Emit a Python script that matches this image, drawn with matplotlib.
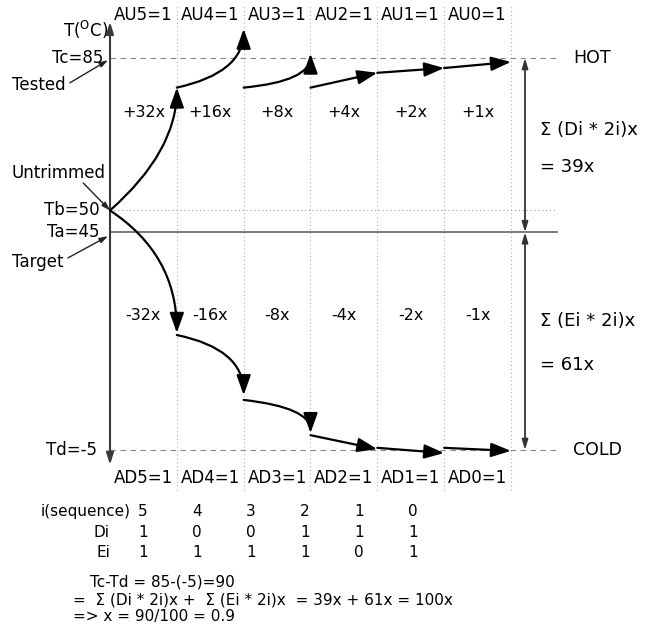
import numpy as np
import matplotlib.pyplot as plt
from matplotlib.patches import FancyArrowPatch
from matplotlib.path import Path

plt.rcParams['font.family'] = 'DejaVu Sans'

# temperature levels in degC
Tc, Tb, Ta, Td = 85, 50, 45, -5

# trim bits, MSB first
bits = [5, 4, 3, 2, 1, 0]
Di = [1, 0, 0, 1, 1, 1]
Ei = [1, 1, 1, 1, 0, 1]
steps = [32, 16, 8, 4, 2, 1]
au_labels = ['AU5=1', 'AU4=1', 'AU3=1', 'AU2=1', 'AU1=1', 'AU0=1']
ad_labels = ['AD5=1', 'AD4=1', 'AD3=1', 'AD2=1', 'AD1=1', 'AD0=1']

# trim paths, one arrow per bit column: start temp -> end temp
up_start = [50, 78.2, 78.2, 78.2, 81.6, 82.7]
up_end = [78.2, 91.7, 86.0, 81.6, 82.7, 84.1]
up_bend = [0.48, 0.25, 0.19, None, None, None]
down_start = [50, 21.4, 6.5, -1.6, -4.5, -4.5]
down_end = [21.9, 7.6, -1.1, -4.8, -5.7, -5.2]
down_bend = [0.36, 0.23, 0.23, None, None, None]

# page layout (pixels)
W, H = 647, 638
x0_px, col_px = 110, 66.83
tc_px, deg_px = 58, 4.3556

fig = plt.figure(figsize=(W / 100, H / 100), dpi=100)
ax = fig.add_axes([0, 0, 1, 1])
ax.set_xlim(-x0_px / col_px, (W - x0_px) / col_px)
ax.set_ylim(Tc - (H - tc_px) / deg_px, Tc + tc_px / deg_px)
ax.axis('off')

ncol = len(bits)
right = 6.69  # end of the level lines

# bit column separators
for c in range(1, ncol + 1):
    ax.plot([c, c], [-14.2, 97.2], color='#b0b0b0', lw=0.8, ls=(0, (1, 2.5)), zorder=1)

# temperature levels
ax.plot([0, right], [Tc, Tc], color='#8a8a8a', lw=0.8, ls=(0, (5, 4)), zorder=1)
ax.plot([0, right], [Td, Td], color='#8a8a8a', lw=0.8, ls=(0, (5, 4)), zorder=1)
ax.plot([0, right], [Tb, Tb], color='#a0a0a0', lw=0.8, ls=(0, (1, 2.5)), zorder=1)
ax.plot([0, right], [Ta, Ta], color='#707070', lw=1.3, zorder=1)

# temperature axis
ax.add_patch(FancyArrowPatch((0, -8.4), (0, 93.3), arrowstyle='<|-|>,head_length=7,head_width=2.2',
                             mutation_scale=1, shrinkA=0, shrinkB=0, lw=1.5, color='#3a3a3a', zorder=2))


def trim_arrow(c, t0, t1, bend):
    if bend is None:
        path = Path([(c, t0), (c + 1, t1)], [Path.MOVETO, Path.LINETO])
    else:
        path = Path([(c, t0), (c + 1, t0 + bend * (t1 - t0)), (c + 1, t1)],
                    [Path.MOVETO, Path.CURVE3, Path.CURVE3])
    ax.add_patch(FancyArrowPatch(path=path, arrowstyle='-|>,head_length=12,head_width=4.3',
                                 mutation_scale=1, lw=1.6, color='black', zorder=4))


for c in range(ncol):
    trim_arrow(c, up_start[c], up_end[c], up_bend[c])
    trim_arrow(c, down_start[c], down_end[c], down_bend[c])

# span arrows on the right
xs = 6.21
for a, b in [(Tc, Ta), (Ta, Td)]:
    ax.add_patch(FancyArrowPatch((xs, a), (xs, b), arrowstyle='<|-|>,head_length=6,head_width=1.8',
                                 mutation_scale=1, shrinkA=0, shrinkB=0, lw=1.3, color='#333333', zorder=3))

fs = 12
# column headers and step sizes
for c in range(ncol):
    ax.text(c + 0.5, 94.9, au_labels[c], ha='center', va='center', fontsize=fs)
    ax.text(c + 0.5, -11.4, ad_labels[c], ha='center', va='center', fontsize=fs)
    ax.text(c + 0.5, 72.4, '+%dx' % steps[c], ha='center', va='center', fontsize=11.5)
    ax.text(c + 0.5, 25.8, '-%dx' % steps[c], ha='center', va='center', fontsize=11.5)

# level labels on the axis
ax.text(-0.03, 91.4, r'T($\mathregular{^{O}}$C)', ha='right', va='center', fontsize=fs)
ax.text(-0.1, Tc, 'Tc=%d' % Tc, ha='right', va='center', fontsize=fs)
ax.text(-0.15, Tb, 'Tb=%d' % Tb, ha='right', va='center', fontsize=fs)
ax.text(-0.15, Ta, 'Ta=%d' % Ta, ha='right', va='center', fontsize=fs)
ax.text(-0.19, Td, 'Td=%d' % Td, ha='right', va='center', fontsize=fs)

ax.text(-1.47, 78.8, 'Tested', ha='left', va='center', fontsize=fs)
ax.text(-1.47, 58.6, 'Untrimmed', ha='left', va='center', fontsize=fs)
ax.text(-1.47, 38.2, 'Target', ha='left', va='center', fontsize=fs)

leaders = [((-0.6, 79.3), (-0.03, 84.5)), ((-0.4, 56.3), (0, Tb)), ((-0.63, 39.1), (-0.03, 44.1))]
for p0, p1 in leaders:
    ax.add_patch(FancyArrowPatch(p0, p1, arrowstyle='-|>,head_length=5,head_width=1.6', mutation_scale=1,
                                 shrinkA=0, shrinkB=0, lw=1.0, color='#222222', zorder=3))

# right side
ax.text(6.93, Tc, 'HOT', ha='left', va='center', fontsize=12.5)
ax.text(6.93, Td, 'COLD', ha='left', va='center', fontsize=12.5)
sum_d = sum(d * s for d, s in zip(Di, steps))
sum_e = sum(e * s for e, s in zip(Ei, steps))
ax.text(6.43, 68.5, 'Σ (Di * 2i)x', ha='left', va='center', fontsize=13)
ax.text(6.43, 60.0, '= %dx' % sum_d, ha='left', va='center', fontsize=13)
ax.text(6.43, 24.6, 'Σ (Ei * 2i)x', ha='left', va='center', fontsize=13)
ax.text(6.43, 14.5, '= %dx' % sum_e, ha='left', va='center', fontsize=13)

# bit table
tfs = 11
rows_t = [-19.2, -24.05, -28.6]
ax.text(0.31, rows_t[0], 'i(sequence)', ha='right', va='center', fontsize=tfs)
ax.text(0.0, rows_t[1], 'Di', ha='right', va='center', fontsize=tfs)
ax.text(0.0, rows_t[2], 'Ei', ha='right', va='center', fontsize=tfs)
for k in range(ncol):
    xk = 0.49 + 0.808 * k
    ax.text(xk, rows_t[0], str(bits[k]), ha='center', va='center', fontsize=tfs)
    ax.text(xk, rows_t[1], str(Di[k]), ha='center', va='center', fontsize=tfs)
    ax.text(xk, rows_t[2], str(Ei[k]), ha='center', va='center', fontsize=tfs)

span = Tc - Td
ax.text(-0.3, -35.3, 'Tc-Td = %d-(%d)=%d' % (Tc, Td, span), ha='left', va='center', fontsize=tfs)
ax.text(-0.555, -39.4, '=  Σ (Di * 2i)x +  Σ (Ei * 2i)x  = %dx + %dx = %dx' % (sum_d, sum_e, sum_d + sum_e),
        ha='left', va='center', fontsize=tfs)
ax.text(-0.555, -43.3, '=> x = %d/%d = %.1f' % (span, sum_d + sum_e, span / (sum_d + sum_e)),
        ha='left', va='center', fontsize=tfs)

fig.savefig('out.png', dpi=100, facecolor='white')
